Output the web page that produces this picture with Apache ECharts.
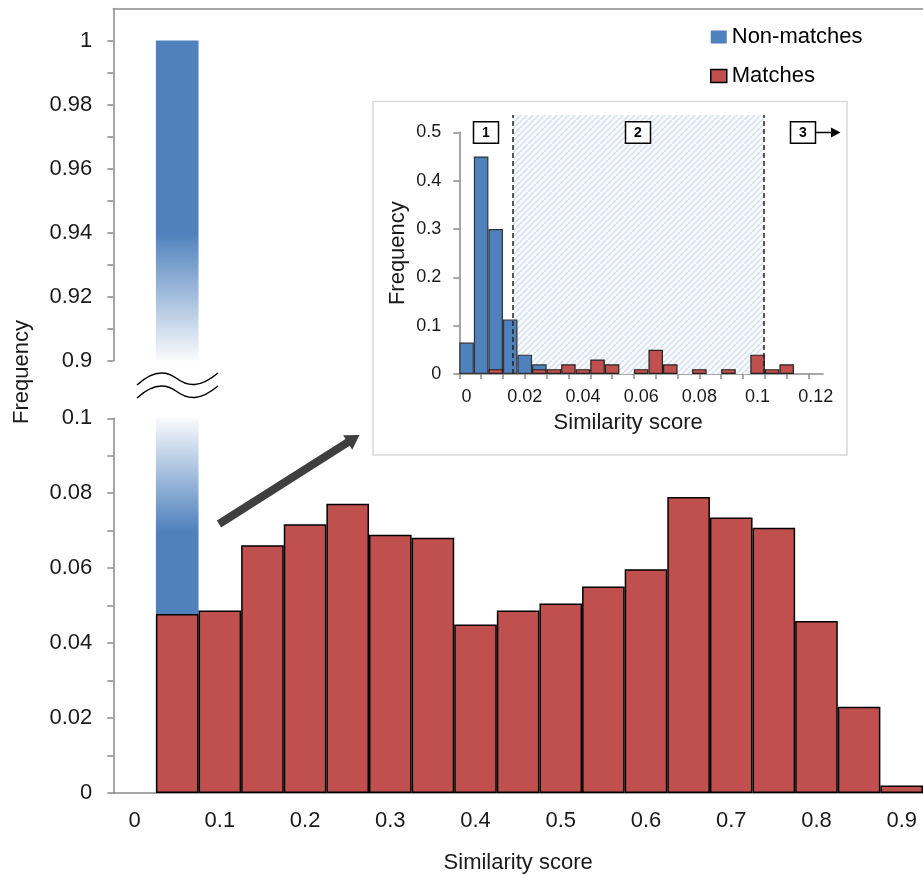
<!DOCTYPE html>
<html><head><meta charset="utf-8">
<script src="https://cdn.jsdelivr.net/npm/echarts@6/dist/echarts.min.js"></script>
<style>html,body{margin:0;padding:0;background:#fff}#c{width:923px;height:875px}</style>
</head><body><div id="c"></div>
<script>
// ---------- data ----------
const mainCategories = ['0','0.05','0.1','0.15','0.2','0.25','0.3','0.35','0.4','0.45','0.5','0.55','0.6','0.65','0.7','0.75','0.8','0.85','0.9'];
const mainNonMatches = [0,1,0,0,0,0,0,0,0,0,0,0,0,0,0,0,0,0,0];
const mainMatches = [0,0.0478,0.0487,0.0661,0.0717,0.0772,0.0689,0.0681,0.0450,0.0487,0.0506,0.0551,0.0597,0.0790,0.0735,0.0708,0.0459,0.0230,0.0020];
const upperYTicks = [0.9,0.91,0.92,0.93,0.94,0.95,0.96,0.97,0.98,0.99,1];
const upperYLabels = [0.9,0.92,0.94,0.96,0.98,1];
const lowerYTicks = [0,0.01,0.02,0.03,0.04,0.05,0.06,0.07,0.08,0.09,0.1];
const lowerYLabels = [0,0.02,0.04,0.06,0.08,0.1];

const insetCategories = ['0','0.005','0.01','0.015','0.02','0.025','0.03','0.035','0.04','0.045','0.05','0.055','0.06','0.065','0.07','0.075','0.08','0.085','0.09','0.095','0.1','0.105','0.11','0.115','0.12'];
const insetNonMatches = [0.065,0.45,0.30,0.113,0.04,0.02,0,0,0,0,0,0,0,0,0,0,0,0,0,0,0,0,0,0,0];
const insetMatches = [0,0,0.01,0,0,0.01,0.01,0.02,0.01,0.03,0.02,0,0.01,0.05,0.02,0,0.01,0,0.01,0,0.04,0.01,0.02,0,0];
const insetXTicks = [0,0.0075,0.015,0.0225,0.03,0.0375,0.045,0.0525,0.06,0.0675,0.075,0.0825,0.09,0.0975,0.105,0.1125,0.12];
const insetXExtent = [0,0.125];
const insetThresholds = [0.0184,0.1045];
const regionLabels = ['1','2','3'];

// ---------- style ----------
const FONT = 'Liberation Sans, Arial, sans-serif';
const AX = '#8a8a8a';
const TXT = '#1a1a1a';
const BLUE = '#4F81BD', RED = '#C0504D';
const fmt = v => String(+(+v).toFixed(3));
const nz = a => a.map(v => v === 0 ? '-' : v);

function hatch(){
  const s = 6, c = document.createElement('canvas'); c.width = s; c.height = s;
  const g = c.getContext('2d');
  g.fillStyle = '#fafbfd'; g.fillRect(0,0,s,s);
  g.strokeStyle = '#d3dff0'; g.lineWidth = 1.5;
  g.beginPath();
  for (const k of [-s,0,s]) { g.moveTo(k, s); g.lineTo(k + s, 0); }
  g.stroke();
  return {image: c, repeat: 'repeat'};
}
function arrowPts(tx,ty,px,py,hw,hhw,hl){
  const dx=px-tx, dy=py-ty, L=Math.hypot(dx,dy), ux=dx/L, uy=dy/L, nx=-uy, ny=ux;
  const bx=px-ux*hl, by=py-uy*hl;
  return [[tx+nx*hw,ty+ny*hw],[bx+nx*hw,by+ny*hw],[bx+nx*hhw,by+ny*hhw],[px,py],
          [bx-nx*hhw,by-ny*hhw],[bx-nx*hw,by-ny*hw],[tx-nx*hw,ty-ny*hw]];
}
function boxLabel(cx, cy, t){
  return [
    {type:'rect', z: 50, silent:true, shape:{x:cx-12.5,y:cy-10.8,width:25,height:21.6}, style:{fill:'#fff', stroke:'#000', lineWidth:1.5}},
    {type:'text', z: 51, silent:true, style:{text:t, x:cx, y:cy+1, align:'center', verticalAlign:'middle', font:'bold 14px ' + FONT, fill:'#000'}}
  ];
}
function wave(dy){
  const seg = (a) => ({type:'bezierCurve', silent:true,
    shape:{x1:a[0], y1:a[1]+dy, cpx1:a[2], cpy1:a[3]+dy, cpx2:a[4], cpy2:a[5]+dy, x2:a[6], y2:a[7]+dy},
    style:{fill:'none', stroke:'#000', lineWidth:1.5}});
  return [seg([137,385,152,371,165,370,176,378]), seg([176,378,188,387,200,388,218,373])];
}

const mainW = 19 * 42.95, insetW = 25 * 14.55;
const chart = echarts.init(document.getElementById('c'), null, {renderer:'canvas'});
chart.setOption({
  animation: false,
  backgroundColor: '#fff',
  textStyle: {fontFamily: FONT},
  legend: {
    orient: 'vertical', left: 705, top: 19, itemWidth: 16, itemHeight: 13, itemGap: 13,
    icon: 'rect',
    textStyle: {fontSize: 22, color: '#000', lineHeight: 26, fontFamily: FONT},
    data: [
      {name: 'Non-matches', itemStyle: {color: BLUE, borderWidth: 0}},
      {name: 'Matches', itemStyle: {color: RED, borderColor: '#000', borderWidth: 1.5}}
    ]
  },
  grid: [
    {left: 113.3, top: 8.5, width: mainW, height: 352.2},
    {left: 113.3, top: 418.3, width: mainW, height: 375},
    {left: 459.3, top: 115, width: insetW, height: 259},
    {left: 459.3, top: 132.3, width: insetW, height: 241.7}
  ],
  xAxis: [
    {gridIndex: 0, type: 'category', data: mainCategories, position: 'top',
     axisLine: {lineStyle: {color: AX, width: 1.5}}, axisTick: {show: false}, axisLabel: {show: false}},
    {gridIndex: 1, type: 'category', data: mainCategories,
     axisLine: {lineStyle: {color: AX, width: 1.5}},
     axisTick: {interval: 0, length: 6, lineStyle: {color: AX, width: 1.5}},
     axisLabel: {interval: 1, fontSize: 22, color: TXT, margin: 17},
     name: 'Similarity score', nameLocation: 'middle', nameGap: 59,
     nameTextStyle: {fontSize: 22, color: TXT}},
    {gridIndex: 2, type: 'value', min: insetXExtent[0], max: insetXExtent[1],
     axisLine: {show: false}, splitLine: {show: false}, axisLabel: {show: false},
     axisTick: {show: true, customValues: insetXTicks, length: 5, lineStyle: {color: AX, width: 1.5}}},
    {gridIndex: 3, type: 'category', data: insetCategories,
     axisLine: {lineStyle: {color: AX, width: 1.5}}, axisTick: {show: false},
     axisLabel: {interval: 3, fontSize: 18, color: TXT, margin: 14},
     name: 'Similarity score', nameLocation: 'middle', nameGap: 38,
     nameTextStyle: {fontSize: 22, color: TXT, padding: [0, 26, 0, 0]}}
  ],
  yAxis: [
    {gridIndex: 0, type: 'value', min: 0.9, max: 1.01,
     axisLine: {show: true, lineStyle: {color: AX, width: 1.5}}, splitLine: {show: false},
     axisTick: {show: true, customValues: upperYTicks, length: 6, lineStyle: {color: AX, width: 1.5}},
     axisLabel: {customValues: upperYLabels, formatter: fmt, fontSize: 22, color: TXT, margin: 21}},
    {gridIndex: 1, type: 'value', min: 0, max: 0.1,
     axisLine: {show: true, lineStyle: {color: AX, width: 1.5}}, splitLine: {show: false},
     axisTick: {show: true, customValues: lowerYTicks, length: 6, lineStyle: {color: AX, width: 1.5}},
     axisLabel: {customValues: lowerYLabels, formatter: fmt, fontSize: 22, color: TXT, margin: 21}},
    {gridIndex: 2, type: 'value', min: 0, max: 1, show: false},
    {gridIndex: 3, type: 'value', min: 0, max: 0.5, interval: 0.1,
     axisLine: {show: true, lineStyle: {color: AX, width: 1.5}}, splitLine: {show: false},
     axisTick: {show: true, length: 6, lineStyle: {color: AX, width: 1.5}},
     axisLabel: {formatter: fmt, fontSize: 18, color: TXT, margin: 18},
     name: 'Frequency', nameLocation: 'middle', nameGap: 50,
     nameTextStyle: {fontSize: 22, color: TXT}}
  ],
  series: [
    {name: 'Non-matches', type: 'bar', xAxisIndex: 0, yAxisIndex: 0, data: nz(mainNonMatches),
     barCategoryGap: 0, barGap: '-100%', clip: true,
     itemStyle: {color: new echarts.graphic.LinearGradient(0,0,0,1,[
       {offset: 0, color: BLUE}, {offset: 0.6, color: BLUE}, {offset: 1, color: 'rgba(79,129,189,0.03)'}])}},
    {name: 'Non-matches', type: 'bar', xAxisIndex: 1, yAxisIndex: 1, data: nz(mainNonMatches),
     barCategoryGap: 0, barGap: '-100%', clip: true,
     itemStyle: {color: new echarts.graphic.LinearGradient(0,0,0,1,[
       {offset: 0, color: 'rgba(79,129,189,0.04)'}, {offset: 0.3, color: BLUE}, {offset: 1, color: BLUE}])}},
    {name: 'Matches', type: 'bar', xAxisIndex: 1, yAxisIndex: 1, data: nz(mainMatches),
     barCategoryGap: 0, barGap: '-100%',
     itemStyle: {color: RED, borderColor: '#000', borderWidth: 1.5}},
    {name: 'Region', type: 'line', xAxisIndex: 2, yAxisIndex: 2, data: [], symbol: 'none',
     markArea: {silent: true, itemStyle: {color: hatch()},
       data: [[{xAxis: insetThresholds[0], yAxis: 0}, {xAxis: insetThresholds[1], yAxis: 1}]]},
     markLine: {silent: true, precision: 5, symbol: ['none','none'], label: {show: false},
       lineStyle: {type: [5,3], color: '#222', width: 1.5},
       data: [{xAxis: insetThresholds[0]}, {xAxis: insetThresholds[1]}]}},
    {name: 'Non-matches', type: 'bar', xAxisIndex: 3, yAxisIndex: 3, data: nz(insetNonMatches),
     barCategoryGap: 0, barGap: '-100%',
     itemStyle: {color: BLUE, borderColor: '#333', borderWidth: 1.2}},
    {name: 'Matches', type: 'bar', xAxisIndex: 3, yAxisIndex: 3, data: nz(insetMatches),
     barCategoryGap: 0, barGap: '-100%',
     itemStyle: {color: RED, borderColor: '#222', borderWidth: 1.2}}
  ],
  graphic: [
    {type: 'rect', z: -5, silent: true, shape: {x: 373, y: 101.5, width: 474, height: 353.5},
     style: {fill: 'transparent', stroke: '#d9d9d9', lineWidth: 1.5}},
    ...wave(0), ...wave(13),
    {type: 'polygon', silent: true, shape: {points: arrowPts(219,524,359.5,435,4,8.5,14)},
     style: {fill: '#3f3f3f'}},
    ...boxLabel(486, 132.5, regionLabels[0]),
    ...boxLabel(638, 132.5, regionLabels[1]),
    ...boxLabel(803, 132.5, regionLabels[2]),
    {type: 'line', z: 50, silent: true, shape: {x1: 815.5, y1: 132.5, x2: 832, y2: 132.5}, style: {stroke: '#000', lineWidth: 1.5}},
    {type: 'polygon', z: 50, silent: true, shape: {points: [[831,127.5],[840.5,132.5],[831,137.5]]}, style: {fill: '#000'}},
    {type: 'text', silent: true, x: 21.5, y: 372, rotation: Math.PI / 2,
     style: {text: 'Frequency', align: 'center', verticalAlign: 'middle', font: '22px ' + FONT, fill: TXT}}
  ]
});
</script></body></html>
